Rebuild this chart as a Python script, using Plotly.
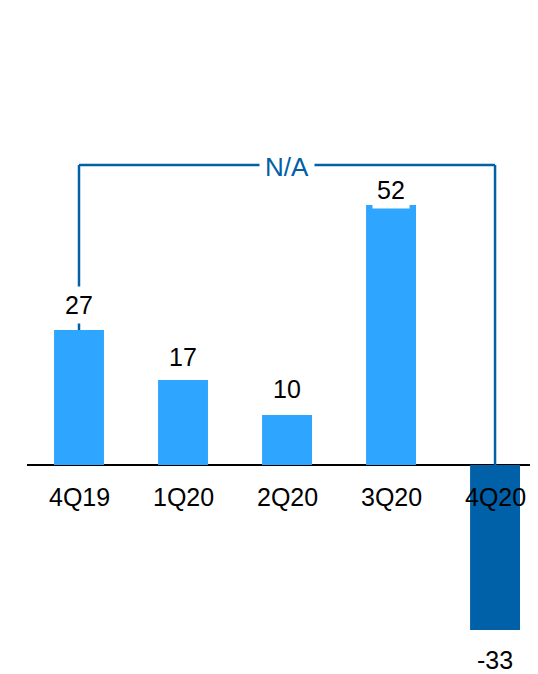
import plotly.graph_objects as go

quarters = ["4Q19", "1Q20", "2Q20", "3Q20", "4Q20"]
values = [27, 17, 10, 52, -33]
bar_colors = ["#2ea5ff", "#2ea5ff", "#2ea5ff", "#2ea5ff", "#0060a8"]
label_shift = [25, 23, 26, 15, -30]
bracket_text = "N/A"
bracket_level = 60

FONT = "Liberation Sans, Arial, sans-serif"
DARK = "#0060a8"

x = list(range(len(quarters)))

fig = go.Figure()
fig.add_trace(go.Bar(
    x=x, y=values,
    marker=dict(color=bar_colors, line=dict(width=0)),
    width=0.48,
    hoverinfo="skip",
))

# bracket from first bar to last quarter
fig.add_shape(type="line", x0=0, x1=0, y0=values[0], y1=bracket_level,
              line=dict(color=DARK, width=2.5), layer="above")
fig.add_shape(type="line", x0=0, x1=4, y0=bracket_level, y1=bracket_level,
              line=dict(color=DARK, width=2.5), layer="above")
fig.add_shape(type="line", x0=4, x1=4, y0=bracket_level, y1=0,
              line=dict(color=DARK, width=2.5), layer="above")
fig.add_annotation(x=2, y=bracket_level, text=bracket_text, showarrow=False,
                   yshift=-2, font=dict(family=FONT, size=26, color=DARK),
                   bgcolor="white", borderpad=5)

# value labels
for xi, v, s in zip(x, values, label_shift):
    fig.add_annotation(x=xi, y=v, text=str(v), showarrow=False, yshift=s,
                       font=dict(family=FONT, size=25, color="black"),
                       bgcolor="white", borderpad=4)

# category labels
for xi, q in zip(x, quarters):
    fig.add_annotation(x=xi, y=0, text=q, showarrow=False, yshift=-32,
                       font=dict(family=FONT, size=25, color="black"))

fig.update_layout(
    width=530, height=666,
    margin=dict(l=19, r=0, t=0, b=0),
    paper_bgcolor="white", plot_bgcolor="white",
    showlegend=False,
    xaxis=dict(range=[-0.5, 4.413], showticklabels=False, showgrid=False,
               zeroline=False, fixedrange=True),
    yaxis=dict(range=[-41.8, 91.4], showticklabels=False, showgrid=False,
               zeroline=True, zerolinecolor="black", zerolinewidth=1.5,
               fixedrange=True),
)

fig.write_html("out.html")
